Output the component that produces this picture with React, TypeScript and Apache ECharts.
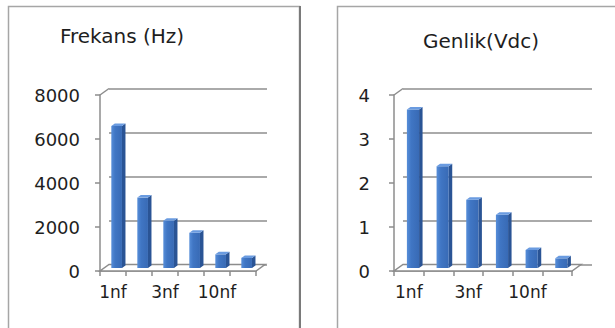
import React, { useEffect, useRef } from "react";
import * as echarts from "echarts";

const categories = ["1nf", "2nf", "3nf", "4nf", "10nf", "15nf"];
const freqValues = [6450, 3200, 2150, 1600, 620, 460];
const ampValues = [3.6, 2.31, 1.55, 1.21, 0.41, 0.22];
const freqTitle = "Frekans (Hz)";
const ampTitle = "Genlik(Vdc)";
const freqAxis = { min: 0, max: 8000, interval: 2000 };
const ampAxis = { min: 0, max: 4, interval: 1 };

const FONT = "DejaVu Sans";
const AXIS_COLOR = "#8c8c8c";
const GRID_COLOR = "#8e8e8e";
const DX = 9;
const DY = -6.5;

function barRender(params: any, api: any) {
  const i = api.value(0);
  const v = api.value(1);
  const top = api.coord([i, v]);
  const base = api.coord([i, 0]);
  const cw = api.size([1, 0])[0];
  const bw = cw * 0.41;
  const ox = cw * 0.14;
  const oy = -3;
  const dx = 3.5;
  const dy = -2.5;
  const x0 = top[0] + ox - bw / 2;
  const x1 = x0 + bw;
  const yT = top[1] + oy;
  const yB = base[1] + oy;
  return {
    type: "group",
    children: [
      {
        type: "polygon",
        shape: { points: [[x1, yT], [x1 + dx, yT + dy], [x1 + dx, yB + dy], [x1, yB]] },
        style: { fill: "#2a5495" },
      },
      {
        type: "rect",
        shape: { x: x0, y: yT, width: bw, height: yB - yT },
        style: {
          fill: new echarts.graphic.LinearGradient(0, 0, 1, 0, [
            { offset: 0, color: "#578ed9" },
            { offset: 0.35, color: "#4076c4" },
            { offset: 1, color: "#386ab5" },
          ]),
        },
      },
      {
        type: "polygon",
        shape: { points: [[x0, yT], [x1, yT], [x1 + dx, yT + dy], [x0 + dx, yT + dy]] },
        style: { fill: "#6a9be0" },
      },
    ],
  };
}

function floorRender(params: any, api: any) {
  const n = api.value(0);
  const maxV = api.value(1);
  const c0 = api.coord([0, 0]);
  const cN = api.coord([n - 1, 0]);
  const cTop = api.coord([0, maxV]);
  const cw = api.size([1, 0])[0];
  const xL = c0[0] - cw / 2;
  const xR = cN[0] + cw / 2;
  const y = c0[1];
  return {
    type: "group",
    children: [
      {
        type: "polygon",
        shape: { points: [[xL, y], [xR, y], [xR + DX, y + DY], [xL + DX, y + DY]] },
        style: { fill: "#ffffff", stroke: AXIS_COLOR, lineWidth: 1.5 },
      },
      {
        type: "line",
        shape: { x1: xL, y1: cTop[1], x2: xL + DX, y2: cTop[1] + DY },
        style: { stroke: AXIS_COLOR, lineWidth: 1.5 },
      },
    ],
  };
}

function backAxes(ax: any, gi: number) {
  return {
    x: { gridIndex: gi, type: "category", data: categories, show: false },
    y: {
      gridIndex: gi,
      type: "value",
      min: ax.min,
      max: ax.max,
      interval: ax.interval,
      axisLine: { show: false },
      axisTick: { show: false },
      axisLabel: { show: false },
      splitLine: { show: true, lineStyle: { color: GRID_COLOR, width: 1.5 } },
    },
  };
}

function frontAxes(ax: any, gi: number, margin: number) {
  return {
    x: {
      gridIndex: gi,
      type: "category",
      data: categories,
      axisLine: { show: true, lineStyle: { color: AXIS_COLOR, width: 1.5 } },
      axisTick: { show: true, interval: 0, length: 5, lineStyle: { color: AXIS_COLOR, width: 1.5 } },
      axisLabel: { interval: 1, margin: 12, fontFamily: FONT, fontSize: 17, color: "#1e1e1e" },
      splitLine: { show: false },
    },
    y: {
      gridIndex: gi,
      type: "value",
      min: ax.min,
      max: ax.max,
      interval: ax.interval,
      axisLine: { show: true, lineStyle: { color: AXIS_COLOR, width: 1.5 } },
      axisTick: { show: true, length: 5, lineStyle: { color: AXIS_COLOR, width: 1.5 } },
      axisLabel: {
        margin,
        fontFamily: FONT,
        fontSize: 18,
        color: "#1e1e1e",
        formatter: (val: number) => String(val),
      },
      splitLine: { show: false },
    },
  };
}

export default function App() {
  const ref = useRef<HTMLDivElement>(null);
  useEffect(() => {
    if (!ref.current) return;
    const chart = echarts.init(ref.current, null, { renderer: "svg" });
    const b0 = backAxes(freqAxis, 0);
    const f1 = frontAxes(freqAxis, 1, 20);
    const b2 = backAxes(ampAxis, 2);
    const f3 = frontAxes(ampAxis, 3, 24);
    chart.setOption({
      animation: false,
      backgroundColor: "#ffffff",
      grid: [
        { left: 109, top: 88.5, width: 158, height: 176, outerBoundsMode: "none" },
        { left: 100, top: 95, width: 156, height: 176, outerBoundsMode: "none" },
        { left: 403, top: 88.5, width: 189, height: 176, outerBoundsMode: "none" },
        { left: 394, top: 95, width: 178, height: 176, outerBoundsMode: "none" },
      ],
      xAxis: [b0.x, f1.x, b2.x, f3.x],
      yAxis: [b0.y, f1.y, b2.y, f3.y],
      graphic: [
        {
          type: "rect",
          shape: { x: 8.5, y: 6.5, width: 291, height: 340 },
          style: { fill: "none", stroke: "#a6a6a6", lineWidth: 1.5 },
          z: -10,
        },
        {
          type: "line",
          shape: { x1: 300, y1: 6, x2: 300, y2: 330 },
          style: { stroke: "#7a7a7a", lineWidth: 2 },
          z: -9,
        },
        {
          type: "rect",
          shape: { x: 337.5, y: 6.5, width: 300, height: 340 },
          style: { fill: "none", stroke: "#a6a6a6", lineWidth: 1.5 },
          z: -10,
        },
        {
          type: "text",
          x: 122,
          y: 36,
          style: {
            text: freqTitle,
            fontFamily: FONT,
            fontSize: 20,
            fill: "#1e1e1e",
            textAlign: "center",
            textVerticalAlign: "middle",
          },
        },
        {
          type: "text",
          x: 481,
          y: 41,
          style: {
            text: ampTitle,
            fontFamily: FONT,
            fontSize: 20,
            fill: "#1e1e1e",
            textAlign: "center",
            textVerticalAlign: "middle",
          },
        },
      ],
      series: [
        {
          type: "custom",
          xAxisIndex: 1,
          yAxisIndex: 1,
          renderItem: floorRender,
          data: [[categories.length, freqAxis.max]],
          encode: { x: -1, y: -1 },
          silent: true,
          z: 1,
        },
        {
          type: "custom",
          xAxisIndex: 1,
          yAxisIndex: 1,
          renderItem: barRender,
          data: freqValues.map((v, i) => [i, v]),
          encode: { x: 0, y: 1 },
          z: 2,
        },
        {
          type: "custom",
          xAxisIndex: 3,
          yAxisIndex: 3,
          renderItem: floorRender,
          data: [[categories.length, ampAxis.max]],
          encode: { x: -1, y: -1 },
          silent: true,
          z: 1,
        },
        {
          type: "custom",
          xAxisIndex: 3,
          yAxisIndex: 3,
          renderItem: barRender,
          data: ampValues.map((v, i) => [i, v]),
          encode: { x: 0, y: 1 },
          z: 2,
        },
      ],
    });
    return () => chart.dispose();
  }, []);
  return (
    <div
      ref={ref}
      style={{ position: "fixed", left: 0, top: 0, width: 615, height: 328, background: "#fff" }}
    />
  );
}
